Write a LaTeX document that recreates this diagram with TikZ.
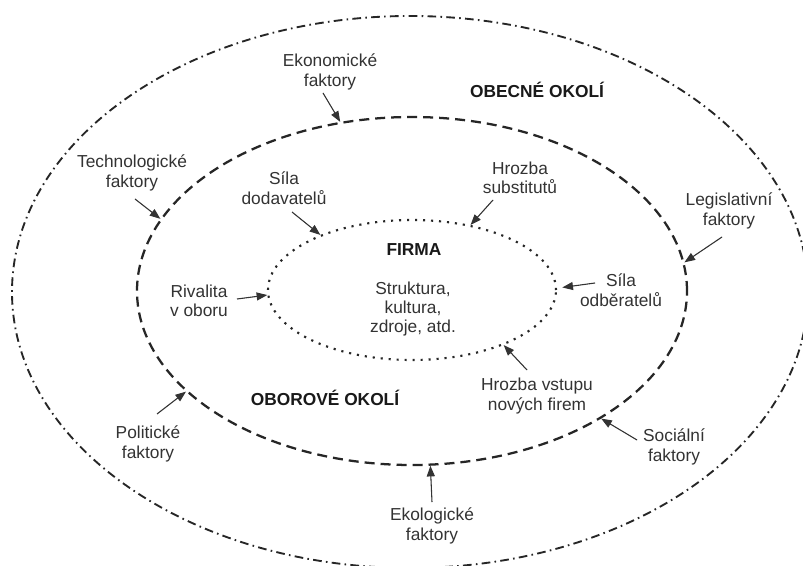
\documentclass[tikz,border=0pt]{standalone}
\usepackage{fontspec}
\setmainfont{Liberation Sans}
\usetikzlibrary{shapes.geometric,arrows.meta}
\tikzset{
  lbl/.style={align=center, inner sep=0pt, text=black!80, font=\fontsize{13}{14.6}\selectfont},
  headlbl/.style={lbl, text=black!90, font=\bfseries\fontsize{13}{14.6}\selectfont},
  arr/.style={line width=0.8pt, draw=black!80, fill=black!80, -{Triangle[length=8pt,width=6pt]}},
  outerring/.style={ellipse, draw=black!85, inner sep=0pt, line width=1.4pt,
    dash pattern=on 6.5pt off 3.2pt on 1.2pt off 3.2pt},
  midring/.style={ellipse, draw=black!85, inner sep=0pt, line width=1.7pt,
    dash pattern=on 7.5pt off 4.5pt},
  innerring/.style={ellipse, draw=black!85, inner sep=0pt, line width=1.6pt,
    dash pattern=on 1.6pt off 4.4pt}
}
\begin{document}
\begin{tikzpicture}[x=0.75pt,y=-0.75pt]
\useasboundingbox (0,0) rectangle (803,566);
\fill[white] (0,0) rectangle (803,566);
\clip (0,0) rectangle (803,566);

% rings
\node[outerring, minimum width=597pt, minimum height=414pt] (outer) at (410,292) {};
\node[midring, minimum width=412.5pt, minimum height=261pt] (mid) at (412,291) {};
\node[innerring, minimum width=216pt, minimum height=105pt] (inner) at (412,290) {};

% headings
\node[headlbl] (obecne) at (537,90) {OBECNÉ OKOLÍ};
\node[headlbl] (oborove) at (325,398) {OBOROVÉ OKOLÍ};
\node[headlbl] (firma) at (414,250) {FIRMA};
\node[lbl] (firmatxt) at (413,309) {Struktura,\\kultura,\\zdroje, atd.};

% general environment factors
\node[lbl] (ekon) at (330,72) {Ekonomické\\faktory};
\node[lbl] (tech) at (132,173) {Technologické\\faktory};
\node[lbl] (legis) at (729,211) {Legislativní\\faktory};
\node[lbl] (polit) at (148,444) {Politické\\faktory};
\node[lbl] (soc) at (674,447) {Sociální\\faktory};
\node[lbl] (ekol) at (432,526) {Ekologické\\faktory};

% industry forces
\node[lbl] (dodav) at (284,188) {Síla\\dodavatelů};
\node[lbl] (subst) at (520,178) {Hrozba\\substitutů};
\node[lbl] (odber) at (621,290) {Síla\\odběratelů};
\node[lbl] (rival) at (199,301) {Rivalita\\v oboru};
\node[lbl] (vstup) at (537,396) {Hrozba vstupu\\nových firem};

% arrows to the industry ring
\draw[arr] ([shift={(-7,21)}]ekon.center) -- (mid.113);
\draw[arr] ([shift={(3,26)}]tech.center) -- (mid.164.6);
\draw[arr] ([shift={(-7,26)}]legis.center) -- (mid.6);
\draw[arr] ([shift={(9,-30)}]polit.center) -- (mid.204.2);
\draw[arr] ([shift={(-37,-7)}]soc.center) -- (mid.326.4);
\draw[arr] ([shift={(0,-24)}]ekol.center) -- (mid.276.5);

% arrows to the firm
\draw[arr] ([shift={(8,24)}]dodav.center) -- (inner.149.9);
\draw[arr] ([shift={(-27,22)}]subst.center) -- (inner.48.3);
\draw[arr] ([shift={(-26,-7)}]odber.center) -- ([xshift=4pt]inner.1.5);
\draw[arr] ([shift={(38,-2)}]rival.center) -- (inner.182);
\draw[arr] ([shift={(-10,-26)}]vstup.center) -- (inner.329.7);
\end{tikzpicture}
\end{document}
